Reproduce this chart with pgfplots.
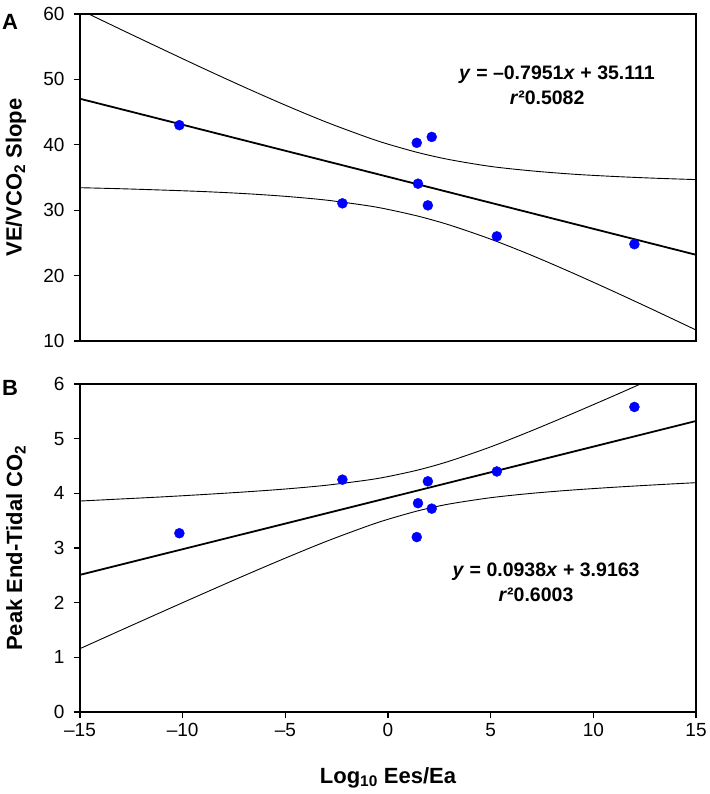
\documentclass[border=0pt]{standalone}
\usepackage{pgfplots}
\pgfplotsset{compat=1.18}
\usepackage{fontspec}
\setmainfont{Liberation Sans}

\definecolor{ptblue}{RGB}{0,0,255}

\begin{document}
\begin{tikzpicture}
\path[use as bounding box] (-80pt,-82pt) rectangle (629pt,712pt);
\pgfplotsset{
  every axis/.append style={
    scale only axis, width=616pt,
    xmin=-15, xmax=15,
    axis line style={line width=1.4pt},
    every tick/.style={black, line width=1.2pt},
    tick align=outside, major tick length=6pt,
    ytick pos=left, xtick pos=bottom,
    /pgf/number format/assume math mode=true,
    tick label style={font=\fontsize{19}{21}\selectfont},
    yticklabel style={xshift=-6pt},
    xticklabel style={yshift=-2pt},
    label style={font=\bfseries\fontsize{22}{24}\selectfont},
  },
  band/.style={black, line width=0.9pt, smooth, no markers},
  fit/.style={black, line width=1.8pt, no markers},
  pts/.style={only marks, mark=*, mark size=5pt, mark options={ptblue, draw=ptblue, fill=ptblue}},
}

% ---------- Panel A ----------
\begin{axis}[name=top, at={(0,371pt)}, anchor=south west, height=327pt,
  ymin=10, ymax=60, ytick={10,20,...,60}, yticklabels={10,20,30,40,50,60}, xtick=\empty,
  ylabel={VE/VCO\textsubscript{2} Slope},
  ylabel style={at={(axis description cs:-0.104,0.5)}, anchor=center},
]
\addplot[band] coordinates {(-15,60.64) (-13,57.62) (-11,54.64) (-9,51.69) (-7,48.82) (-5,46.06) (-3,43.46) (-1,41.13) (0,40.10) (1.5,38.78) (3,37.73) (5,36.69) (7,36.01) (9,35.51) (11,35.16) (13,34.89) (15,34.68)};
\addplot[band] coordinates {(-15,33.44) (-13,33.28) (-11,33.08) (-9,32.85) (-7,32.54) (-5,32.12) (-3,31.54) (-1,30.69) (0,30.12) (1.5,29.06) (3,27.73) (5,25.57) (7,23.09) (9,20.39) (11,17.56) (13,14.65) (15,11.68)};
\addplot[fit] coordinates {(-15,47.04) (15,23.18)};
\addplot[pts] coordinates {(-10.16,43.0) (-2.22,31.05) (1.40,40.3) (1.46,34.05) (1.94,30.74) (2.13,41.2) (5.3,26.0) (12.0,24.8)};
\node[font=\bfseries\fontsize{19.5}{21}\selectfont] at (axis cs:8.23,50.67) {\textit{y} = –0.7951\textit{x} + 35.111};
\node[font=\bfseries\fontsize{19.5}{21}\selectfont] at (axis cs:7.75,47.16) {\textit{r}²0.5082};
\end{axis}

% ---------- Panel B ----------
\begin{axis}[name=bot, at={(0,0)}, anchor=south west, height=328pt,
  ymin=0, ymax=6, ytick={0,1,...,6}, yticklabels={0,1,2,3,4,5,6},
  xtick={-15,-10,-5,0,5,10,15}, xticklabels={–15,–10,–5,0,5,10,15},
  ylabel={Peak End-Tidal CO\textsubscript{2}},
  ylabel style={at={(axis description cs:-0.104,0.5)}, anchor=center},
  xlabel={Log\textsubscript{10} Ees/Ea},
  xlabel style={at={(axis description cs:0.5,-0.2)}, anchor=center},
]
\addplot[band] coordinates {(-15,3.859) (-13,3.897) (-11,3.935) (-9,3.978) (-7,4.025) (-5,4.079) (-3,4.148) (-1,4.243) (0,4.307) (1.5,4.430) (3,4.590) (5,4.850) (7,5.146) (9,5.461) (11,5.785) (13,6.117) (15,6.451)};
\addplot[band] coordinates {(-15,1.159) (-13,1.497) (-11,1.833) (-9,2.166) (-7,2.495) (-5,2.815) (-3,3.122) (-1,3.401) (0,3.525) (1.5,3.684) (3,3.806) (5,3.920) (7,4.000) (9,4.061) (11,4.111) (13,4.155) (15,4.195)};
\addplot[fit] coordinates {(-15,2.509) (15,5.323)};
\addplot[pts] coordinates {(-10.16,3.27) (-2.22,4.25) (1.40,3.20) (1.46,3.82) (1.94,4.22) (2.13,3.72) (5.3,4.40) (12.0,5.58)};
\node[font=\bfseries\fontsize{19.5}{21}\selectfont] at (axis cs:7.70,2.56) {\textit{y} = 0.0938\textit{x} + 3.9163};
\node[font=\bfseries\fontsize{19.5}{21}\selectfont] at (axis cs:7.21,2.14) {\textit{r}²0.6003};
\end{axis}

\node[font=\bfseries\fontsize{22}{24}\selectfont] at ([shift={(-70pt,-7.5pt)}]top.north west) {A};
\node[font=\bfseries\fontsize{22}{24}\selectfont] at ([shift={(-70pt,-4pt)}]bot.north west) {B};
\end{tikzpicture}
\end{document}
